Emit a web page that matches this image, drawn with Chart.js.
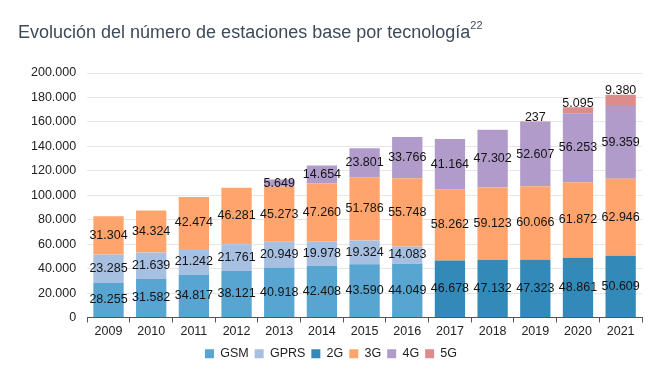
<!DOCTYPE html>
<html lang="es">
<head>
  <meta charset="utf-8">
  <title>Estaciones base por tecnología</title>
  <script src="https://cdn.jsdelivr.net/npm/chart.js"></script>
  <style>
    body { margin: 0; background: #fff; font-family: "Liberation Sans", Arial, sans-serif; }
    .tela { position: relative; width: 665px; height: 375px; }
    .titulo { position: absolute; left: 18px; top: 21px; font-size: 18px; color: #3d4a59; white-space: nowrap; }
    .titulo sup { font-size: 11px; position: relative; top: -2px; }
    canvas { position: absolute; left: 0; top: 0; }
  </style>
</head>
<body>
  <div class="tela">
    <canvas id="grafico" width="665" height="375"></canvas>
    <div class="titulo">Evolución del número de estaciones base por tecnología<sup>22</sup></div>
  </div>

<script>
  // dados
  var anos = ['2009', '2010', '2011', '2012', '2013', '2014', '2015', '2016', '2017', '2018', '2019', '2020', '2021'];
  var gsm  = [28255, 31582, 34817, 38121, 40918, 42408, 43590, 44049, null, null, null, null, null];
  var gprs = [23285, 21639, 21242, 21761, 20949, 19978, 19324, 14083, null, null, null, null, null];
  var g2   = [null, null, null, null, null, null, null, null, 46678, 47132, 47323, 48861, 50609];
  var g3   = [31304, 34324, 42474, 46281, 45273, 47260, 51786, 55748, 58262, 59123, 60066, 61872, 62946];
  var g4   = [null, null, null, null, 5649, 14654, 23801, 33766, 41164, 47302, 52607, 56253, 59359];
  var g5   = [null, null, null, null, null, null, null, null, null, null, 237, 5095, 9380];
  var ticksY = [0, 20000, 40000, 60000, 80000, 100000, 120000, 140000, 160000, 180000, 200000];

  function formatar(v) {
    return String(v).replace(/\B(?=(\d{3})+(?!\d))/g, '.');
  }

  // rótulos dentro das barras
  var rotulos = {
    id: 'rotulos',
    afterDatasetsDraw: function (chart) {
      var ctx = chart.ctx;
      ctx.save();
      ctx.font = '12.5px "Liberation Sans", Arial, sans-serif';
      ctx.fillStyle = '#151515';
      ctx.textAlign = 'center';
      ctx.textBaseline = 'middle';
      chart.data.datasets.forEach(function (ds, i) {
        var meta = chart.getDatasetMeta(i);
        meta.data.forEach(function (el, j) {
          var v = ds.data[j];
          if (v == null) return;
          var y = (el.y + el.base) / 2;
          if (ds.label == '5G') y = el.y - 4;
          ctx.fillText(formatar(v), el.x, y);
        });
      });
      ctx.restore();
    }
  };

  var dados = {
    labels: anos,
    datasets: [
      { label: 'GSM', data: gsm, backgroundColor: '#57a5d0' },
      { label: 'GPRS', data: gprs, backgroundColor: '#a7c0e2' },
      { label: '2G', data: g2, backgroundColor: '#3389b7' },
      { label: '3G', data: g3, backgroundColor: '#ffa46c' },
      { label: '4G', data: g4, backgroundColor: '#b09bca' },
      { label: '5G', data: g5, backgroundColor: '#dd8c8c' }
    ]
  };

  const config = {
    type: 'bar',
    data: dados,
    options: {
      responsive: false,
      animation: false,
      barPercentage: 0.71,
      categoryPercentage: 1,
      layout: { padding: { top: 73, right: 23, left: 20, bottom: 5 } },
      plugins: {
        legend: {
          position: 'bottom',
          labels: {
            boxWidth: 9, boxHeight: 9, padding: 6,
            color: '#222',
            font: { family: '"Liberation Sans", Arial, sans-serif', size: 12.5 }
          }
        },
        tooltip: { enabled: false }
      },
      scales: {
        x: {
          stacked: true,
          grid: { display: true, offset: true, drawOnChartArea: false, drawTicks: true, tickLength: 5, color: '#555' },
          border: { display: true, color: '#555' },
          ticks: { color: '#222', padding: 2, font: { family: '"Liberation Sans", Arial, sans-serif', size: 12.5 } }
        },
        y: {
          stacked: true,
          min: 0,
          max: 200000,
          afterBuildTicks: function (axis) {
            axis.ticks = ticksY.map(function (v) { return { value: v }; });
          },
          grid: { color: '#e6e6e6', drawTicks: false },
          border: { display: false },
          ticks: {
            color: '#222', padding: 11,
            font: { family: '"Liberation Sans", Arial, sans-serif', size: 12.5 },
            callback: function (v) { return formatar(v); }
          }
        }
      }
    },
    plugins: [rotulos]
  };

  let myChart = new Chart(document.getElementById('grafico'), config);
</script>
</body>
</html>
